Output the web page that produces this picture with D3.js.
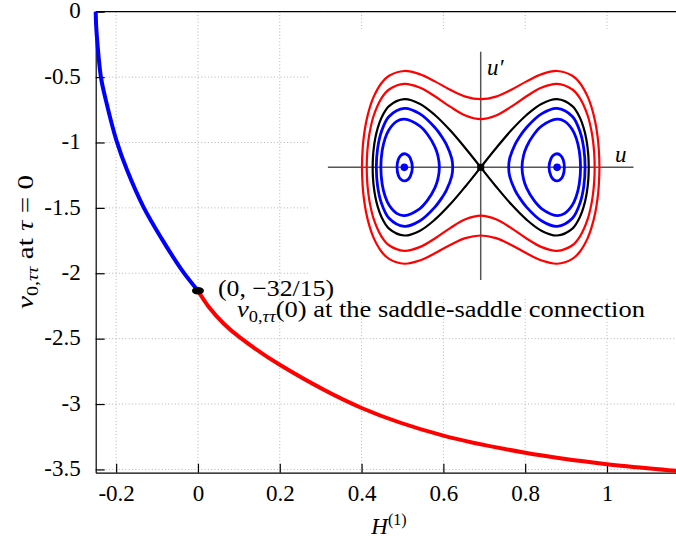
<!DOCTYPE html>
<html>
<head>
<meta charset="utf-8">
<script src="https://cdnjs.cloudflare.com/ajax/libs/d3/7.8.5/d3.min.js"></script>
<style>
body { margin: 0; background: #fff; }
svg text { font-family: "Liberation Serif", serif; font-size: 23px; fill: #000; }
</style>
</head>
<body>
<svg id="chart" width="676" height="542"></svg>
<script>
// main plot: nu_{0,tautau}(0) against H^(1)
var xTicks = [-0.2, 0, 0.2, 0.4, 0.6, 0.8, 1];
var xTickLabels = ["-0.2", "0", "0.2", "0.4", "0.6", "0.8", "1"];
var yTicks = [0, -0.5, -1, -1.5, -2, -2.5, -3, -3.5];
var yTickLabels = ["0", "-0.5", "-1", "-1.5", "-2", "-2.5", "-3", "-3.5"];

// [H, nu]
var bluePart = [[-0.25, 0], [-0.249, -0.1], [-0.2477, -0.165], [-0.2372, -0.5], [-0.2249, -0.68],
  [-0.1988, -0.99], [-0.1729, -1.215], [-0.1337, -1.49], [-0.0888, -1.735], [-0.0384, -1.98], [0, -2.1333]];
var redPart = [[0, -2.1333], [0.029, -2.268], [0.062, -2.382], [0.10, -2.485], [0.2, -2.70],
  [0.4, -3.03], [0.6, -3.242], [0.8, -3.372], [1.0, -3.46], [1.169, -3.511], [1.2, -3.522]];
var connPoint = [0, -2.1333];

// inset phase portrait, one quadrant / half of each orbit, [u, u']
var redOuterQ = [[0, 0.707], [0.2, 0.734], [0.4, 0.805], [0.6, 0.892], [0.8, 0.967], [1.0, 1.0], [1.2, 0.950],
  [1.3, 0.873], [1.4, 0.734], [1.45, 0.626], [1.5, 0.468], [1.53, 0.318], [1.545, 0.195], [1.554, 0]];
var redInnerQ = [[0, 0.5], [0.2, 0.538], [0.4, 0.630], [0.6, 0.738], [0.8, 0.828], [1.0, 0.866], [1.2, 0.808],
  [1.3, 0.716], [1.4, 0.538], [1.45, 0.377], [1.47, 0.276], [1.485, 0.154], [1.492, 0]];
var sepQ = [[0, 0], [0.2, 0.198], [0.4, 0.384], [0.6, 0.543], [0.8, 0.660], [1.0, 0.707], [1.2, 0.635],
  [1.3, 0.512], [1.35, 0.402], [1.38, 0.302], [1.4, 0.198], [1.41, 0.109], [1.414, 0]];
var blueOuterH = [[0.366, 0], [0.38, 0.095], [0.45, 0.239], [0.5, 0.306], [0.6, 0.413], [0.8, 0.557], [1.0, 0.612],
  [1.2, 0.528], [1.3, 0.370], [1.35, 0.192], [1.366, 0]];
var blueMidH = [[0.541, 0], [0.56, 0.12], [0.6, 0.213], [0.7, 0.346], [0.8, 0.430], [1.0, 0.5], [1.1, 0.477],
  [1.2, 0.391], [1.25, 0.303], [1.29, 0.172], [1.307, 0]];
var blueInnerH = [[0.894, 0], [0.92, 0.091], [0.95, 0.124], [1.0, 0.141], [1.05, 0.121], [1.08, 0.079], [1.095, 0]];
var centres = [[-1, 0], [1, 0]];

var svg = d3.select("#chart");

var x = d3.scaleLinear().domain([-0.25, 1.2]).range([95.7, 688.8]);
var y = d3.scaleLinear().domain([-3.525, 0]).range([472.7, 11.7]);

// dotted grid
var grid = svg.append("g").attr("stroke", "#b4b4b4").attr("stroke-width", 1).attr("stroke-dasharray", "1,2.3");
grid.selectAll("line.gx").data(xTicks).enter().append("line")
  .attr("x1", function(d) { return x(d); }).attr("x2", function(d) { return x(d); })
  .attr("y1", y(0)).attr("y2", y.range()[0]);
grid.selectAll("line.gy").data(yTicks).enter().append("line")
  .attr("x1", x.range()[0]).attr("x2", 676)
  .attr("y1", function(d) { return y(d); }).attr("y2", function(d) { return y(d); });

// axes
var xAxis = svg.append("g").attr("transform", "translate(0," + y.range()[0] + ")")
  .call(d3.axisBottom(x).tickValues(xTicks).tickSize(-9).tickSizeOuter(0).tickPadding(12)
    .tickFormat(function(d, i) { return xTickLabels[i]; }));
var yAxis = svg.append("g").attr("transform", "translate(" + x.range()[0] + ",0)")
  .call(d3.axisLeft(y).tickValues(yTicks).tickSize(-9).tickSizeOuter(0).tickPadding(15)
    .tickFormat(function(d, i) { return yTickLabels[i]; }));
[xAxis, yAxis].forEach(function(a) {
  a.attr("font-family", null).attr("font-size", null);
  a.selectAll("path, line").attr("stroke", "#000").attr("stroke-width", 1.2);
});
yAxis.selectAll("text").attr("dy", "0.27em");
svg.append("line").attr("x1", x.range()[0]).attr("x2", 676).attr("y1", y(0)).attr("y2", y(0))
  .attr("stroke", "#000").attr("stroke-width", 1.3);

// curves
var line = d3.line().x(function(d) { return x(d[0]); }).y(function(d) { return y(d[1]); }).curve(d3.curveCatmullRom.alpha(0.5));
svg.append("path").datum(bluePart).attr("d", line).attr("fill", "none").attr("stroke", "#0000ff").attr("stroke-width", 4);
svg.append("path").datum(redPart).attr("d", line).attr("fill", "none").attr("stroke", "#ff0000").attr("stroke-width", 4);
svg.append("ellipse").attr("cx", x(connPoint[0])).attr("cy", y(connPoint[1])).attr("rx", 6).attr("ry", 3.8).attr("fill", "#000");

// labels
var yl = svg.append("text").attr("text-anchor", "middle").attr("transform", "translate(33,242) rotate(-90)")
  .attr("textLength", 134).attr("lengthAdjust", "spacingAndGlyphs");
yl.append("tspan").attr("font-style", "italic").text("ν");
yl.append("tspan").attr("font-size", 16).attr("dy", 5).text("0,");
yl.append("tspan").attr("font-size", 16).attr("font-style", "italic").text("ττ");
yl.append("tspan").attr("dy", -5).text(" at ");
yl.append("tspan").attr("font-style", "italic").text("τ");
yl.append("tspan").text(" = 0");

var xl = svg.append("text").attr("text-anchor", "middle").attr("x", 389).attr("y", 534);
xl.append("tspan").attr("font-style", "italic").text("H");
xl.append("tspan").attr("font-size", 16).attr("dy", -9).text("(1)");

// inset
var ins = svg.append("g");
ins.append("rect").attr("x", 308).attr("y", 29).attr("width", 380).attr("height", 270).attr("fill", "#fff");
var u = d3.scaleLinear().domain([-2, 2]).range([327.9, 633.5]);
var up = d3.scaleLinear().domain([-1.2, 1.2]).range([283, 51.7]);
ins.append("line").attr("x1", u(-2)).attr("x2", u(2)).attr("y1", up(0)).attr("y2", up(0)).attr("stroke", "#555").attr("stroke-width", 1.5);
ins.append("line").attr("x1", u(0)).attr("x2", u(0)).attr("y1", up(1.2)).attr("y2", 280).attr("stroke", "#555").attr("stroke-width", 1.5);

function fullLoop(q) {
  var a = q.map(function(p) { return [p[0], p[1]]; });
  var b = q.slice().reverse().slice(1).map(function(p) { return [p[0], -p[1]]; });
  var c = q.slice(1).map(function(p) { return [-p[0], -p[1]]; });
  var d = q.slice().reverse().slice(1, -1).map(function(p) { return [-p[0], p[1]]; });
  return a.concat(b, c, d);
}
function halfLoop(h, s) {
  var a = h.map(function(p) { return [s * p[0], p[1]]; });
  var b = h.slice().reverse().slice(1, -1).map(function(p) { return [s * p[0], -p[1]]; });
  return a.concat(b);
}
function lobe(q, s) {
  var a = q.map(function(p) { return [s * p[0], p[1]]; });
  var b = q.slice().reverse().slice(1).map(function(p) { return [s * p[0], -p[1]]; });
  return a.concat(b);
}
var closedLine = d3.line().x(function(d) { return u(d[0]); }).y(function(d) { return up(d[1]); }).curve(d3.curveCatmullRomClosed.alpha(0.5));
var openLine = d3.line().x(function(d) { return u(d[0]); }).y(function(d) { return up(d[1]); }).curve(d3.curveCatmullRom.alpha(0.5));

[redOuterQ, redInnerQ].forEach(function(q) {
  ins.append("path").datum(fullLoop(q)).attr("d", closedLine).attr("fill", "none").attr("stroke", "#ff0000").attr("stroke-width", 2.2);
});
[1, -1].forEach(function(s) {
  ins.append("path").datum(lobe(sepQ, s)).attr("d", openLine).attr("fill", "none").attr("stroke", "#000").attr("stroke-width", 2.2);
  [blueOuterH, blueMidH, blueInnerH].forEach(function(h) {
    ins.append("path").datum(halfLoop(h, s)).attr("d", closedLine).attr("fill", "none").attr("stroke", "#0000ff").attr("stroke-width", 2.8);
  });
});
ins.selectAll("circle.c").data(centres).enter().append("circle")
  .attr("cx", function(d) { return u(d[0]); }).attr("cy", function(d) { return up(d[1]); }).attr("r", 3.8).attr("fill", "#0000ff");
ins.append("rect").attr("x", u(0) - 3.5).attr("y", up(0) - 3.5).attr("width", 7).attr("height", 7).attr("fill", "#000");
ins.append("text").attr("x", 487).attr("y", 75).attr("font-style", "italic").text("u′");
ins.append("text").attr("x", 615).attr("y", 161.7).attr("font-style", "italic").text("u");

// annotation at the saddle-saddle connection
svg.append("text").attr("x", 218).attr("y", 296).attr("textLength", 116).attr("lengthAdjust", "spacingAndGlyphs").text("(0, −32/15)");
var an = svg.append("text").attr("x", 237).attr("y", 317).attr("textLength", 408).attr("lengthAdjust", "spacingAndGlyphs");
an.append("tspan").attr("font-style", "italic").text("ν");
an.append("tspan").attr("font-size", 16).attr("dy", 5).text("0,");
an.append("tspan").attr("font-size", 16).attr("font-style", "italic").text("ττ");
an.append("tspan").attr("dy", -5).text("(0) at the saddle-saddle connection");
</script>
</body>
</html>
